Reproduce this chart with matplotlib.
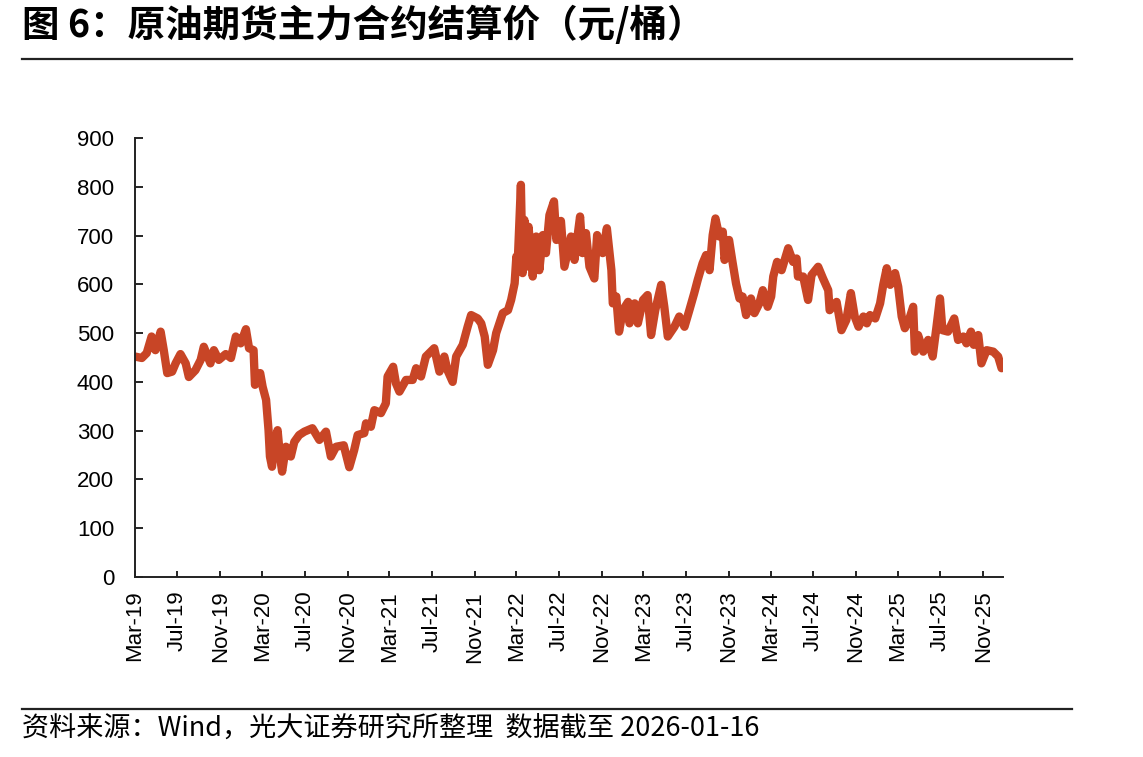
import numpy as np
import pandas as pd
import matplotlib
matplotlib.use("Agg")
import matplotlib.pyplot as plt
import matplotlib.dates as mdates
from matplotlib.lines import Line2D

TITLE = "图 6：原油期货主力合约结算价（元/桶）"
SOURCE = "资料来源：Wind，光大证券研究所整理  数据截至 2026-01-16"

# settlement price (yuan / barrel)
dates = [
    "2019-03-01", "2019-03-21", "2019-04-04", "2019-04-18", "2019-04-29", "2019-05-14",
    "2019-05-23", "2019-06-02", "2019-06-16", "2019-06-26", "2019-07-10", "2019-07-25",
    "2019-08-03", "2019-08-22", "2019-09-06", "2019-09-15", "2019-10-04", "2019-10-14",
    "2019-10-28", "2019-11-17", "2019-12-02", "2019-12-16", "2019-12-30", "2020-01-14",
    "2020-01-23", "2020-02-05", "2020-02-09", "2020-02-24", "2020-03-02", "2020-03-12",
    "2020-03-19", "2020-03-23", "2020-03-29", "2020-04-04", "2020-04-14", "2020-04-21",
    "2020-04-27", "2020-05-08", "2020-05-22", "2020-06-01", "2020-06-15", "2020-06-30",
    "2020-07-23", "2020-08-12", "2020-08-31", "2020-09-14", "2020-09-29", "2020-10-21",
    "2020-11-06", "2020-11-20", "2020-11-30", "2020-12-19", "2020-12-24", "2021-01-07",
    "2021-01-17", "2021-02-05", "2021-02-19", "2021-02-24", "2021-03-12", "2021-03-20",
    "2021-03-30", "2021-04-18", "2021-05-07", "2021-05-17", "2021-05-31", "2021-06-14",
    "2021-07-08", "2021-07-23", "2021-08-06", "2021-08-15", "2021-08-30", "2021-09-09",
    "2021-09-28", "2021-10-12", "2021-10-22", "2021-11-10", "2021-11-20", "2021-11-30",
    "2021-12-09", "2021-12-24", "2022-01-02", "2022-01-21", "2022-02-05", "2022-02-14",
    "2022-02-24", "2022-03-01", "2022-03-04", "2022-03-14", "2022-03-19", "2022-03-24",
    "2022-03-29", "2022-04-05", "2022-04-17", "2022-04-27", "2022-05-06", "2022-05-16",
    "2022-05-25", "2022-06-04", "2022-06-17", "2022-06-24", "2022-07-07", "2022-07-17",
    "2022-08-05", "2022-08-15", "2022-08-31", "2022-09-07", "2022-09-17", "2022-09-27",
    "2022-10-11", "2022-10-19", "2022-11-04", "2022-11-16", "2022-11-29", "2022-12-03",
    "2022-12-13", "2022-12-21", "2023-01-01", "2023-01-16", "2023-01-20", "2023-02-04",
    "2023-02-13", "2023-02-28", "2023-03-13", "2023-03-23", "2023-04-04", "2023-04-21",
    "2023-04-30", "2023-05-10", "2023-05-29", "2023-06-12", "2023-06-27", "2023-07-11",
    "2023-07-25", "2023-08-04", "2023-08-18", "2023-08-28", "2023-09-07", "2023-09-16",
    "2023-09-24", "2023-10-05", "2023-10-15", "2023-10-20", "2023-11-02", "2023-11-11",
    "2023-11-22", "2023-12-02", "2023-12-11", "2023-12-21", "2024-01-04", "2024-01-14",
    "2024-01-28", "2024-02-07", "2024-02-21", "2024-03-02", "2024-03-08", "2024-03-19",
    "2024-04-01", "2024-04-20", "2024-05-04", "2024-05-14", "2024-05-18", "2024-06-02",
    "2024-06-16", "2024-06-26", "2024-07-15", "2024-07-29", "2024-08-13", "2024-08-17",
    "2024-09-06", "2024-09-20", "2024-10-04", "2024-10-17", "2024-10-28", "2024-11-08",
    "2024-11-22", "2024-12-02", "2024-12-11", "2024-12-26", "2025-01-09", "2025-01-18",
    "2025-01-28", "2025-02-07", "2025-02-21", "2025-03-02", "2025-03-12", "2025-03-21",
    "2025-04-02", "2025-04-14", "2025-04-19", "2025-04-28", "2025-05-13", "2025-05-27",
    "2025-06-09", "2025-06-20", "2025-06-30", "2025-07-07", "2025-07-23", "2025-08-10",
    "2025-08-21", "2025-09-05", "2025-09-14", "2025-09-27", "2025-10-05", "2025-10-18",
    "2025-10-27", "2025-11-11", "2025-11-30", "2025-12-14", "2025-12-24", "2025-12-28",
]
price = [
    452, 449, 459, 493, 465, 503,
    465, 418, 421, 438, 457, 438,
    410, 424, 445, 472, 438, 465,
    445, 457, 449, 493, 479, 508,
    469, 465, 394, 418, 390, 363,
    301, 247, 226, 275, 301, 247,
    216, 267, 247, 277, 291, 298,
    305, 281, 298, 247, 267, 270,
    225, 260, 291, 295, 315, 308,
    342, 336, 356, 411, 431, 397,
    380, 404, 404, 428, 411, 452,
    469, 421, 452, 424, 400, 452,
    476, 513, 537, 530, 520, 493,
    435, 465, 500, 541, 547, 568,
    602, 657, 629, 804, 623, 732,
    636, 718, 616, 698, 629, 701,
    664, 742, 770, 691, 730, 636,
    698, 650, 739, 664, 705, 636,
    612, 701, 664, 715, 629, 561,
    575, 503, 547, 564, 520, 561,
    520, 568, 578, 496, 547, 599,
    554, 493, 513, 534, 513, 547,
    582, 609, 643, 660, 629, 701,
    735, 698, 708, 650, 691, 650,
    602, 571, 575, 537, 571, 541,
    561, 588, 554, 575, 616, 646,
    629, 674, 646, 653, 616, 616,
    568, 619, 636, 612, 588, 547,
    564, 506, 527, 582, 534, 513,
    534, 520, 537, 530, 561, 599,
    633, 599, 623, 595, 534, 510,
    527, 554, 462, 496, 462, 486,
    452, 513, 571, 506, 503, 530,
    486, 493, 479, 503, 476, 496,
    438, 465, 462, 452, 428, 432,
]

x = pd.to_datetime(dates)
y = np.array(price)

plt.rcParams["font.family"] = ["Liberation Sans", "Noto Sans CJK SC"]

fig = plt.figure(figsize=(11.43, 7.57), dpi=100)
ax = fig.add_axes([0.118, 0.2378, 0.7595, 0.5799])

ax.plot(x, y, color="#C84526", lw=6.0, solid_capstyle="round", solid_joinstyle="round")

ax.set_ylim(0, 900)
ax.set_yticks(np.arange(0, 901, 100))
ax.set_xlim(pd.Timestamp("2019-03-01"), pd.Timestamp("2025-12-28"))
ax.xaxis.set_major_locator(mdates.MonthLocator(bymonth=[3, 7, 11]))
ax.xaxis.set_major_formatter(mdates.DateFormatter("%b-%y"))
ax.tick_params(axis="x", direction="in", length=4, width=1.2, labelsize=16,
               labelrotation=90, pad=10)
ax.tick_params(axis="y", direction="in", length=6, width=1.2, labelsize=16, pad=15)
for s in ["top", "right"]:
    ax.spines[s].set_visible(False)
for s in ["left", "bottom"]:
    ax.spines[s].set_linewidth(1.4)
    ax.spines[s].set_color("#222222")

fig.text(0.019, 0.967, TITLE, fontsize=27, fontweight="bold",
         family=["Noto Sans CJK SC", "DejaVu Sans"], va="center", ha="left")
fig.add_artist(Line2D([0.019, 0.938], [0.922, 0.922], color="#222222", lw=1.6))
fig.add_artist(Line2D([0.019, 0.938], [0.0634, 0.0634], color="#222222", lw=1.6))
fig.text(0.019, 0.038, SOURCE, fontsize=19.5,
         family=["Noto Sans CJK SC", "DejaVu Sans"], va="center", ha="left")

fig.savefig("out.png", dpi=100)
